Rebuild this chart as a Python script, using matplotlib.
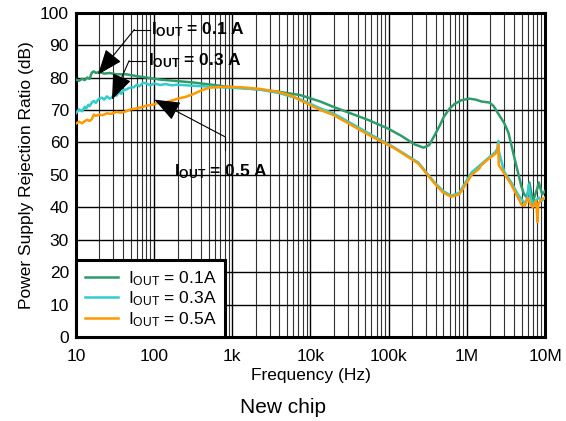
import numpy as np
import matplotlib.pyplot as plt
from matplotlib.ticker import FixedLocator, LogLocator, NullFormatter

plt.rcParams.update({
    'font.family': ['Liberation Sans', 'DejaVu Sans'],
    'mathtext.fontset': 'custom',
    'mathtext.rm': 'Liberation Sans',
    'mathtext.bf': 'Liberation Sans:bold',
    'mathtext.it': 'Liberation Sans:italic',
})

# PSRR traces (frequency in Hz, rejection in dB)
f_01 = [10, 11, 12, 13, 14, 15, 16, 17, 18, 20, 23, 27, 33, 44, 55, 65, 80,
        117, 200, 310, 500, 850, 1.5e3, 2.25e3, 4e3, 7.4e3, 13.4e3, 19.5e3,
        30e3, 54e3, 100e3, 146e3, 215e3, 280e3, 330e3, 383e3, 450e3, 510e3,
        600e3, 690e3, 850e3, 1.07e6, 1.3e6, 1.55e6, 1.95e6, 2.2e6, 2.5e6,
        3.0e6, 3.4e6, 4.1e6, 4.98e6, 5.4e6, 5.8e6, 6.1e6, 6.3e6, 6.6e6, 7.0e6,
        7.5e6, 8.0e6, 8.3e6, 8.7e6, 9.2e6, 10e6]
psrr_01 = [79.4, 79.0, 79.6, 79.2, 80.0, 79.6, 81.5, 81.9, 81.4, 81.8, 81.2,
           81.4, 81.0, 81.0, 80.6, 80.3, 80.0, 79.4, 78.9, 78.5, 77.9, 77.2,
           76.7, 76.3, 75.6, 74.6, 72.6, 71.0, 69.3, 67.0, 64.2, 62.0, 59.4,
           58.4, 59.2, 62.0, 65.2, 68.0, 70.4, 71.8, 73.0, 73.5, 73.2, 72.6,
           72.3, 71.2, 69.0, 66.0, 63.0, 54.8, 46.5, 44.0, 43.2, 45.0, 47.7,
           45.0, 42.0, 44.0, 46.0, 47.7, 46.0, 44.0, 45.0]

f_03 = [10, 11, 12, 13, 13.5, 14.5, 15, 16, 17, 18, 19.5, 21.6, 23, 25, 27,
        29, 31, 33, 36, 38, 41, 44, 48, 55, 60, 65, 72, 80, 90, 100, 120, 140,
        170, 194, 300, 515, 850, 1.5e3, 2.25e3, 4e3, 7.4e3, 13.4e3, 19.5e3,
        30e3, 54e3, 117e3, 240e3, 383e3, 500e3, 630e3, 800e3, 1.15e6, 1.8e6,
        2.3e6, 2.45e6, 2.52e6, 2.58e6, 3.0e6, 3.7e6, 4.5e6, 5.4e6, 5.8e6,
        6.2e6, 6.5e6, 7.0e6, 7.5e6, 8.3e6, 9.0e6, 10e6]
psrr_03 = [69.0, 70.2, 69.6, 71.0, 70.4, 71.6, 71.2, 72.3, 72.8, 72.2, 73.4,
           73.8, 73.2, 74.2, 73.5, 73.9, 74.8, 74.4, 75.6, 75.0, 76.2, 76.3,
           76.8, 77.0, 77.8, 77.3, 78.4, 78.2, 77.6, 78.2, 77.7, 78.0, 77.6,
           77.8, 77.5, 77.2, 76.9, 76.6, 76.3, 75.2, 73.3, 70.5, 69.0, 66.5,
           63.0, 58.5, 53.8, 47.8, 45.0, 43.6, 44.5, 50.8, 54.8, 57.0, 58.0,
           60.5, 57.0, 51.0, 47.7, 44.0, 41.5, 42.0, 47.0, 43.0, 41.0, 42.0,
           43.0, 42.0, 43.0]

f_05 = [10, 11, 12, 13, 14, 15, 16, 17, 18, 20, 22, 25, 28, 33, 38, 44, 50,
        60, 70, 80, 95, 117, 135, 150, 175, 200, 250, 310, 400, 515, 850,
        1.5e3, 2.25e3, 4e3, 6e3, 7.4e3, 13.4e3, 19.5e3, 30e3, 54e3, 117e3,
        240e3, 383e3, 500e3, 630e3, 800e3, 1.15e6, 1.45e6, 1.5e6, 1.8e6,
        2.3e6, 2.5e6, 2.52e6, 2.56e6, 3.0e6, 3.7e6, 4.5e6, 5.0e6, 5.5e6,
        6.0e6, 6.5e6, 7.0e6, 7.7e6, 7.9e6, 8.0e6, 8.2e6, 9.0e6, 10e6]
psrr_05 = [65.8, 66.4, 65.9, 66.6, 67.0, 66.6, 67.2, 68.6, 68.2, 68.6, 68.4,
           69.0, 68.8, 69.4, 69.2, 69.6, 70.2, 70.5, 70.9, 71.3, 71.6, 72.3,
           72.2, 72.6, 73.0, 73.5, 74.0, 74.8, 76.0, 76.9, 77.2, 76.9, 76.5,
           75.5, 74.2, 73.0, 70.0, 68.5, 66.0, 62.5, 58.3, 53.5, 47.5, 44.5,
           43.3, 44.0, 50.0, 52.0, 52.8, 54.5, 56.5, 57.5, 59.5, 53.0, 50.5,
           47.0, 43.0, 40.8, 40.5, 43.0, 41.0, 40.0, 42.0, 38.0, 35.5, 41.0,
           42.5, 43.0]

series = [
    (f_01, psrr_01, '#2E9B6A', r'I$_{\mathrm{OUT}}$ = 0.1A'),
    (f_03, psrr_03, '#33CCCC', r'I$_{\mathrm{OUT}}$ = 0.3A'),
    (f_05, psrr_05, '#FF9900', r'I$_{\mathrm{OUT}}$ = 0.5A'),
]

x_ticks = [10, 100, 1e3, 1e4, 1e5, 1e6, 1e7]
x_ticklabels = ['10', '100', '1k', '10k', '100k', '1M', '10M']
y_ticks = list(range(0, 101, 10))

fig = plt.figure(figsize=(5.66, 4.21), dpi=100)
ax = fig.add_axes([0.134, 0.199, 0.829, 0.771])

for f, p, c, lab in series:
    ax.plot(f, p, color=c, lw=1.8, label=lab, zorder=3)

ax.set_xscale('log')
ax.set_xlim(10, 1e7)
ax.set_ylim(0, 100)
ax.xaxis.set_major_locator(FixedLocator(x_ticks))
ax.set_xticklabels(x_ticklabels)
ax.xaxis.set_minor_locator(LogLocator(base=10, subs=np.arange(2, 10)))
ax.xaxis.set_minor_formatter(NullFormatter())
ax.set_yticks(y_ticks)
ax.tick_params(which='both', length=0, labelsize=12.5)
ax.tick_params(axis='y', pad=5)
ax.tick_params(axis='x', pad=8.5)
ax.grid(which='major', color='black', lw=1.0, zorder=1)
ax.grid(which='minor', axis='x', color='#333333', lw=0.8, zorder=1)
for s in ax.spines.values():
    s.set_linewidth(2.2)
ax.set_xlabel('Frequency (Hz)', fontsize=12.5, labelpad=3)
ax.set_ylabel('Power Supply Rejection Ratio (dB)', fontsize=12.5, labelpad=4)

leg = ax.legend(loc='lower left', fontsize=12.5, frameon=True, fancybox=False,
                borderaxespad=0, handlelength=1.9, handletextpad=0.6,
                labelspacing=0.1, borderpad=0.5, framealpha=1)
leg.get_frame().set_edgecolor('black')
leg.get_frame().set_linewidth(2.2)
leg.set_zorder(5)

# Callouts: leader lines ending in filled arrowheads
arrow_kw = dict(arrowstyle='-|>,head_length=1.6,head_width=0.62',
                color='black', lw=0.8, shrinkA=0, shrinkB=0)

ax.plot([56, 88], [94.8, 94.8], color='black', lw=0.8, zorder=4)
ax.annotate('', xy=(19.2, 80.9), xytext=(56, 94.8), arrowprops=arrow_kw, zorder=4)
ax.text(92, 94.8, r'$\mathbf{I_{OUT}}$ = 0.1 A', fontsize=12.5,
        fontweight='bold', va='center', ha='left', zorder=4)

ax.plot([48, 80], [85.2, 85.2], color='black', lw=0.8, zorder=4)
ax.annotate('', xy=(29, 73.2), xytext=(48, 85.2), arrowprops=arrow_kw, zorder=4)
ax.text(84, 85.2, r'$\mathbf{I_{OUT}}$ = 0.3 A', fontsize=12.5,
        fontweight='bold', va='center', ha='left', zorder=4)

ax.plot([800, 800], [61.8, 57.8], color='black', lw=0.8, zorder=4)
ax.annotate('', xy=(101, 73.2), xytext=(800, 61.8), arrowprops=arrow_kw, zorder=4)
ax.text(178, 51, r'$\mathbf{I_{OUT}}$ = 0.5 A', fontsize=12.5,
        fontweight='bold', va='center', ha='left', zorder=4)

fig.text(0.5, 0.031, 'New chip', fontsize=15, ha='center', va='center')

fig.savefig('out.png', dpi=100, facecolor='white')
